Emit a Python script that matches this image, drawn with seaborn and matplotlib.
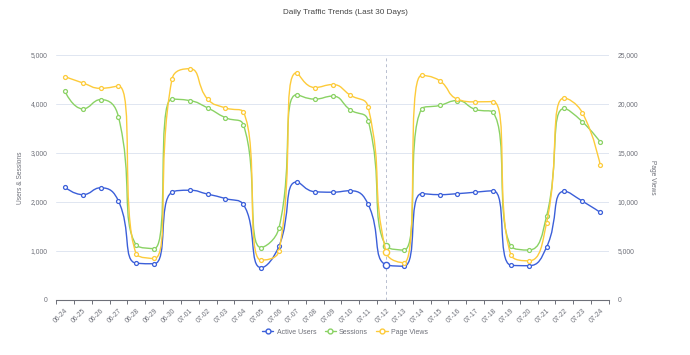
import matplotlib
matplotlib.use('Agg')
import matplotlib.pyplot as plt
import numpy as np
import pandas as pd
import seaborn as sns
from matplotlib.lines import Line2D
from matplotlib.patches import PathPatch
from matplotlib.path import Path
from matplotlib.ticker import FuncFormatter, MultipleLocator

dates = ['06-24', '06-25', '06-26', '06-27', '06-28', '06-29', '06-30',
         '07-01', '07-02', '07-03', '07-04', '07-05', '07-06', '07-07',
         '07-08', '07-09', '07-10', '07-11', '07-12', '07-13', '07-14',
         '07-15', '07-16', '07-17', '07-18', '07-19', '07-20', '07-21',
         '07-22', '07-23', '07-24']
active_users = [2300, 2150, 2290, 2020, 750, 740, 2200,
                2240, 2160, 2070, 1950, 660, 1100, 2410,
                2210, 2200, 2230, 1950, 720, 690, 2170,
                2150, 2170, 2200, 2230, 710, 700, 1080,
                2220, 2020, 1790]
sessions = [4260, 3900, 4090, 3740, 1120, 1050, 4100,
            4070, 3920, 3720, 3580, 1070, 1470, 4190,
            4100, 4160, 3880, 3660, 1100, 1020, 3900,
            3970, 4070, 3890, 3830, 1100, 1020, 1710,
            3910, 3640, 3230]
page_views = [22800, 22150, 21600, 21840, 4700, 4240, 22520,
              23600, 20500, 19600, 19200, 4070, 5000, 23200,
              21680, 21980, 20900, 19680, 4900, 3800, 22930,
              22390, 20500, 20220, 20250, 4610, 4000, 7870,
              20620, 19130, 13810]

pointer_date = '07-12'

BLUE = '#3b5fd9'
GREEN = '#8ad264'
YELLOW = '#fdcb3a'
TEXT = '#6E7079'
GRID = '#E0E6F1'

df = pd.DataFrame({'date': dates, 'Active Users': active_users,
                   'Sessions': sessions, 'Page Views': page_views})
df['pos'] = np.arange(len(df))

sns.set_theme(style='white')
plt.rcParams['font.family'] = ['Liberation Sans', 'DejaVu Sans']

W, H = 690, 355
fig = plt.figure(figsize=(W / 100, H / 100), dpi=100)
L, R, T, B = 56, 609, 55, 300
ax = fig.add_axes([L / W, 1 - B / H, (R - L) / W, (B - T) / H])
ax2 = ax.twinx()

n = len(dates)
px_x = (R - L) / n


def smooth_curve(xs, ys, sy, smooth=0.5):
    # echarts-style bezier smoothing (with control point clamping), in pixel space
    P = np.column_stack([np.asarray(xs, float) * px_x, np.asarray(ys, float) * sy])
    verts = [P[0]]
    codes = [Path.MOVETO]
    cp0 = P[0]
    for k in range(1, len(P)):
        prev, cur = P[k - 1], P[k]
        if k < len(P) - 1:
            nxt = P[k + 1]
            v = nxt - prev
            l0 = np.hypot(*(cur - prev))
            l1 = np.hypot(*(nxt - cur))
            r = l1 / (l0 + l1)
            c1 = cur + v * smooth * r
            c1 = np.minimum(c1, np.maximum(nxt, cur))
            c1 = np.maximum(c1, np.minimum(nxt, cur))
            c0 = cur - (c1 - cur) * l0 / l1
            c0 = np.minimum(c0, np.maximum(prev, cur))
            c0 = np.maximum(c0, np.minimum(prev, cur))
            c1 = cur + (cur - c0) * l1 / l0
        else:
            c0 = cur
            c1 = cur
        verts += [cp0, c0, cur]
        codes += [Path.CURVE4] * 3
        cp0 = c1
    verts = np.array(verts)
    verts[:, 0] /= px_x
    verts[:, 1] /= sy
    return Path(verts, codes)


series = [(ax, 'Active Users', BLUE, 5000), (ax, 'Sessions', GREEN, 5000),
          (ax2, 'Page Views', YELLOW, 25000)]
hi = dates.index(pointer_date)
for a, col, color, top in series:
    sy = (B - T) / top
    a.add_patch(PathPatch(smooth_curve(df['pos'], df[col], sy), fill=False,
                          edgecolor=color, lw=1.0, zorder=3))
    sns.scatterplot(data=df.drop(index=hi), x='pos', y=col, ax=a, s=8,
                    facecolor='white', edgecolor=color, linewidth=0.9,
                    zorder=4, legend=False)
    sns.scatterplot(data=df.iloc[[hi]], x='pos', y=col, ax=a, s=20,
                    facecolor='white', edgecolor=color, linewidth=1.0,
                    zorder=4, legend=False)

for a, top in [(ax, 5000), (ax2, 25000)]:
    a.set_ylim(0, top)
    a.set_xlim(-0.5, n - 0.5)
    a.yaxis.set_major_locator(MultipleLocator(top / 5))
    a.yaxis.set_major_formatter(FuncFormatter(lambda v, p: f'{int(v):,}'))
    a.tick_params(axis='y', length=0, labelsize=4.9, colors=TEXT, pad=6)
    a.set_xlabel('')
    for s in a.spines.values():
        s.set_visible(False)

ax.grid(axis='y', color=GRID, lw=0.7)
ax.set_axisbelow(True)
ax2.grid(False)
ax.spines['bottom'].set_visible(True)
ax.spines['bottom'].set_color(TEXT)
ax.spines['bottom'].set_linewidth(0.8)

ax.set_xticks(df['pos'])
ax.set_xticklabels(dates, rotation=45, ha='right', rotation_mode='anchor')
ax.set_xticks(np.arange(n + 1) - 0.5, minor=True)
ax.tick_params(axis='x', which='major', length=0, labelsize=4.9, colors=TEXT, pad=5)
ax.tick_params(axis='x', which='minor', bottom=True, length=3, width=0.7, color=TEXT)
ax2.tick_params(axis='x', length=0)

ax.set_ylabel('Users & Sessions', fontsize=4.8, color=TEXT, labelpad=5)
ax2.set_ylabel('Page Views', fontsize=4.8, color=TEXT, rotation=-90, labelpad=13)

ax.axvline(hi, color='#b8bfd0', lw=0.7, ls=(0, (3, 3)), zorder=2)

fig.text(0.5, 1 - 12 / H, 'Daily Traffic Trends (Last 30 Days)', ha='center',
         va='center', fontsize=5.9, color='#464646')

handles = [Line2D([0], [0], color=c, lw=1.0, marker='o', markersize=3.5,
                  markerfacecolor='white', markeredgecolor=c, markeredgewidth=1.0)
           for _, _, c, _ in series]
fig.legend(handles, [s[1] for s in series], loc='center', ncol=3,
           bbox_to_anchor=(0.5, 1 - 332 / H), frameon=False, fontsize=5,
           handlelength=1.6, handletextpad=0.5, columnspacing=1.2,
           labelcolor=TEXT)

fig.savefig('out.png', dpi=100)
